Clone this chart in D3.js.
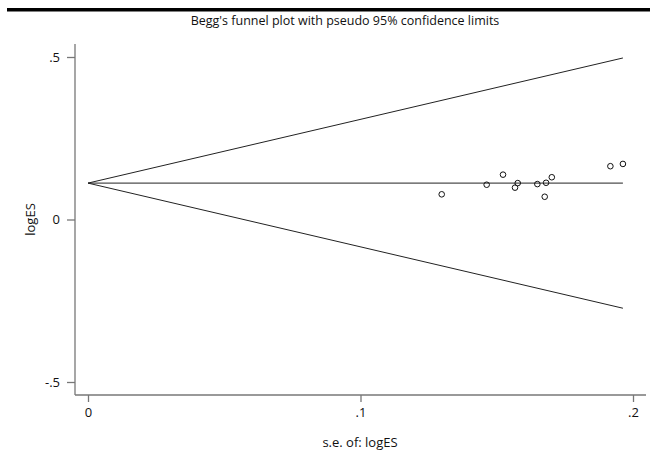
<!DOCTYPE html>
<html>
<head>
<meta charset="utf-8">
<script src="https://cdn.jsdelivr.net/npm/d3@7"></script>
<style>
  body { margin: 0; background: #fff; }
  text { font-family: "Open Sans", sans-serif; fill: #111; }
</style>
</head>
<body>
<div id="chart"></div>
<script>
// study points
var seValues = [0.1298, 0.1463, 0.1523, 0.1577, 0.1567, 0.1649, 0.1681, 0.1676, 0.1702, 0.1917, 0.1963]
var logESValues = [0.0775, 0.107, 0.138, 0.112, 0.098, 0.109, 0.113, 0.070, 0.130, 0.164, 0.171]

// pseudo 95% limits (endpoints)
var limitSE = [0, 0.1963]
var pooledES = [0.112, 0.112]
var upperES = [0.112, 0.497]
var lowerES = [0.112, -0.273]

var xTicks = [0, 0.1, 0.2]
var xTickLabels = ["0", ".1", ".2"]
var yTicks = [-0.5, 0, 0.5]
var yTickLabels = ["-.5", "0", ".5"]

var width = 658, height = 454

var svg = d3.select("#chart").append("svg")
    .attr("width", width)
    .attr("height", height)

// header rule
svg.append("rect")
    .attr("x", 7).attr("y", 8)
    .attr("width", 643).attr("height", 3.5)
    .attr("fill", "#000")

var x = d3.scaleLinear().domain([0, 0.2]).range([88, 633])
var y = d3.scaleLinear().domain([-0.5, 0.5]).range([382, 57])

var plotLeft = 75, plotBottom = 395, plotTop = 44, plotRight = 646

// axes
var yAxis = svg.append("g")
    .attr("transform", "translate(" + plotLeft + ",0)")
    .call(d3.axisLeft(y).tickValues(yTicks).tickSize(8).tickPadding(7)
        .tickFormat(function(d, i) { return yTickLabels[i] }))
yAxis.select(".domain").remove()
yAxis.append("line")
    .attr("x1", 0).attr("x2", 0)
    .attr("y1", plotTop).attr("y2", plotBottom)

var xAxis = svg.append("g")
    .attr("transform", "translate(0," + plotBottom + ")")
    .call(d3.axisBottom(x).tickValues(xTicks).tickSize(7).tickPadding(6)
        .tickFormat(function(d, i) { return xTickLabels[i] }))
xAxis.select(".domain").remove()
xAxis.append("line")
    .attr("x1", plotLeft).attr("x2", plotRight)
    .attr("y1", 0).attr("y2", 0)

svg.selectAll(".tick line").attr("stroke", "#555")
svg.selectAll("g > line").attr("stroke", "#777").attr("stroke-width", 1.3)
svg.selectAll(".tick text")
    .style("font-family", "'Open Sans', sans-serif")
    .style("font-size", "13px")
    .attr("fill", "#111")

// funnel lines
var line = d3.line()
    .x(function(d) { return x(d[0]) })
    .y(function(d) { return y(d[1]) })

;[pooledES, upperES, lowerES].forEach(function(vals) {
    svg.append("path")
        .datum(limitSE.map(function(s, i) { return [s, vals[i]] }))
        .attr("d", line)
        .attr("fill", "none")
        .attr("stroke", "#222")
        .attr("stroke-width", 1)
})

// points
svg.selectAll("circle.pt")
    .data(seValues)
    .enter()
    .append("circle")
    .attr("class", "pt")
    .attr("cx", function(d) { return x(d) })
    .attr("cy", function(d, i) { return y(logESValues[i]) })
    .attr("r", 2.8)
    .attr("fill", "none")
    .attr("stroke", "#111")
    .attr("stroke-width", 1)

// titles
svg.append("text")
    .attr("x", 345).attr("y", 25)
    .attr("text-anchor", "middle")
    .style("font-size", "12.5px")
    .text("Begg's funnel plot with pseudo 95% confidence limits")

svg.append("text")
    .attr("x", 360).attr("y", 447)
    .attr("text-anchor", "middle")
    .style("font-size", "13px")
    .text("s.e. of: logES")

svg.append("text")
    .attr("transform", "translate(35," + y(0) + ") rotate(-90)")
    .attr("text-anchor", "middle")
    .style("font-size", "13px")
    .text("logES")
</script>
</body>
</html>
